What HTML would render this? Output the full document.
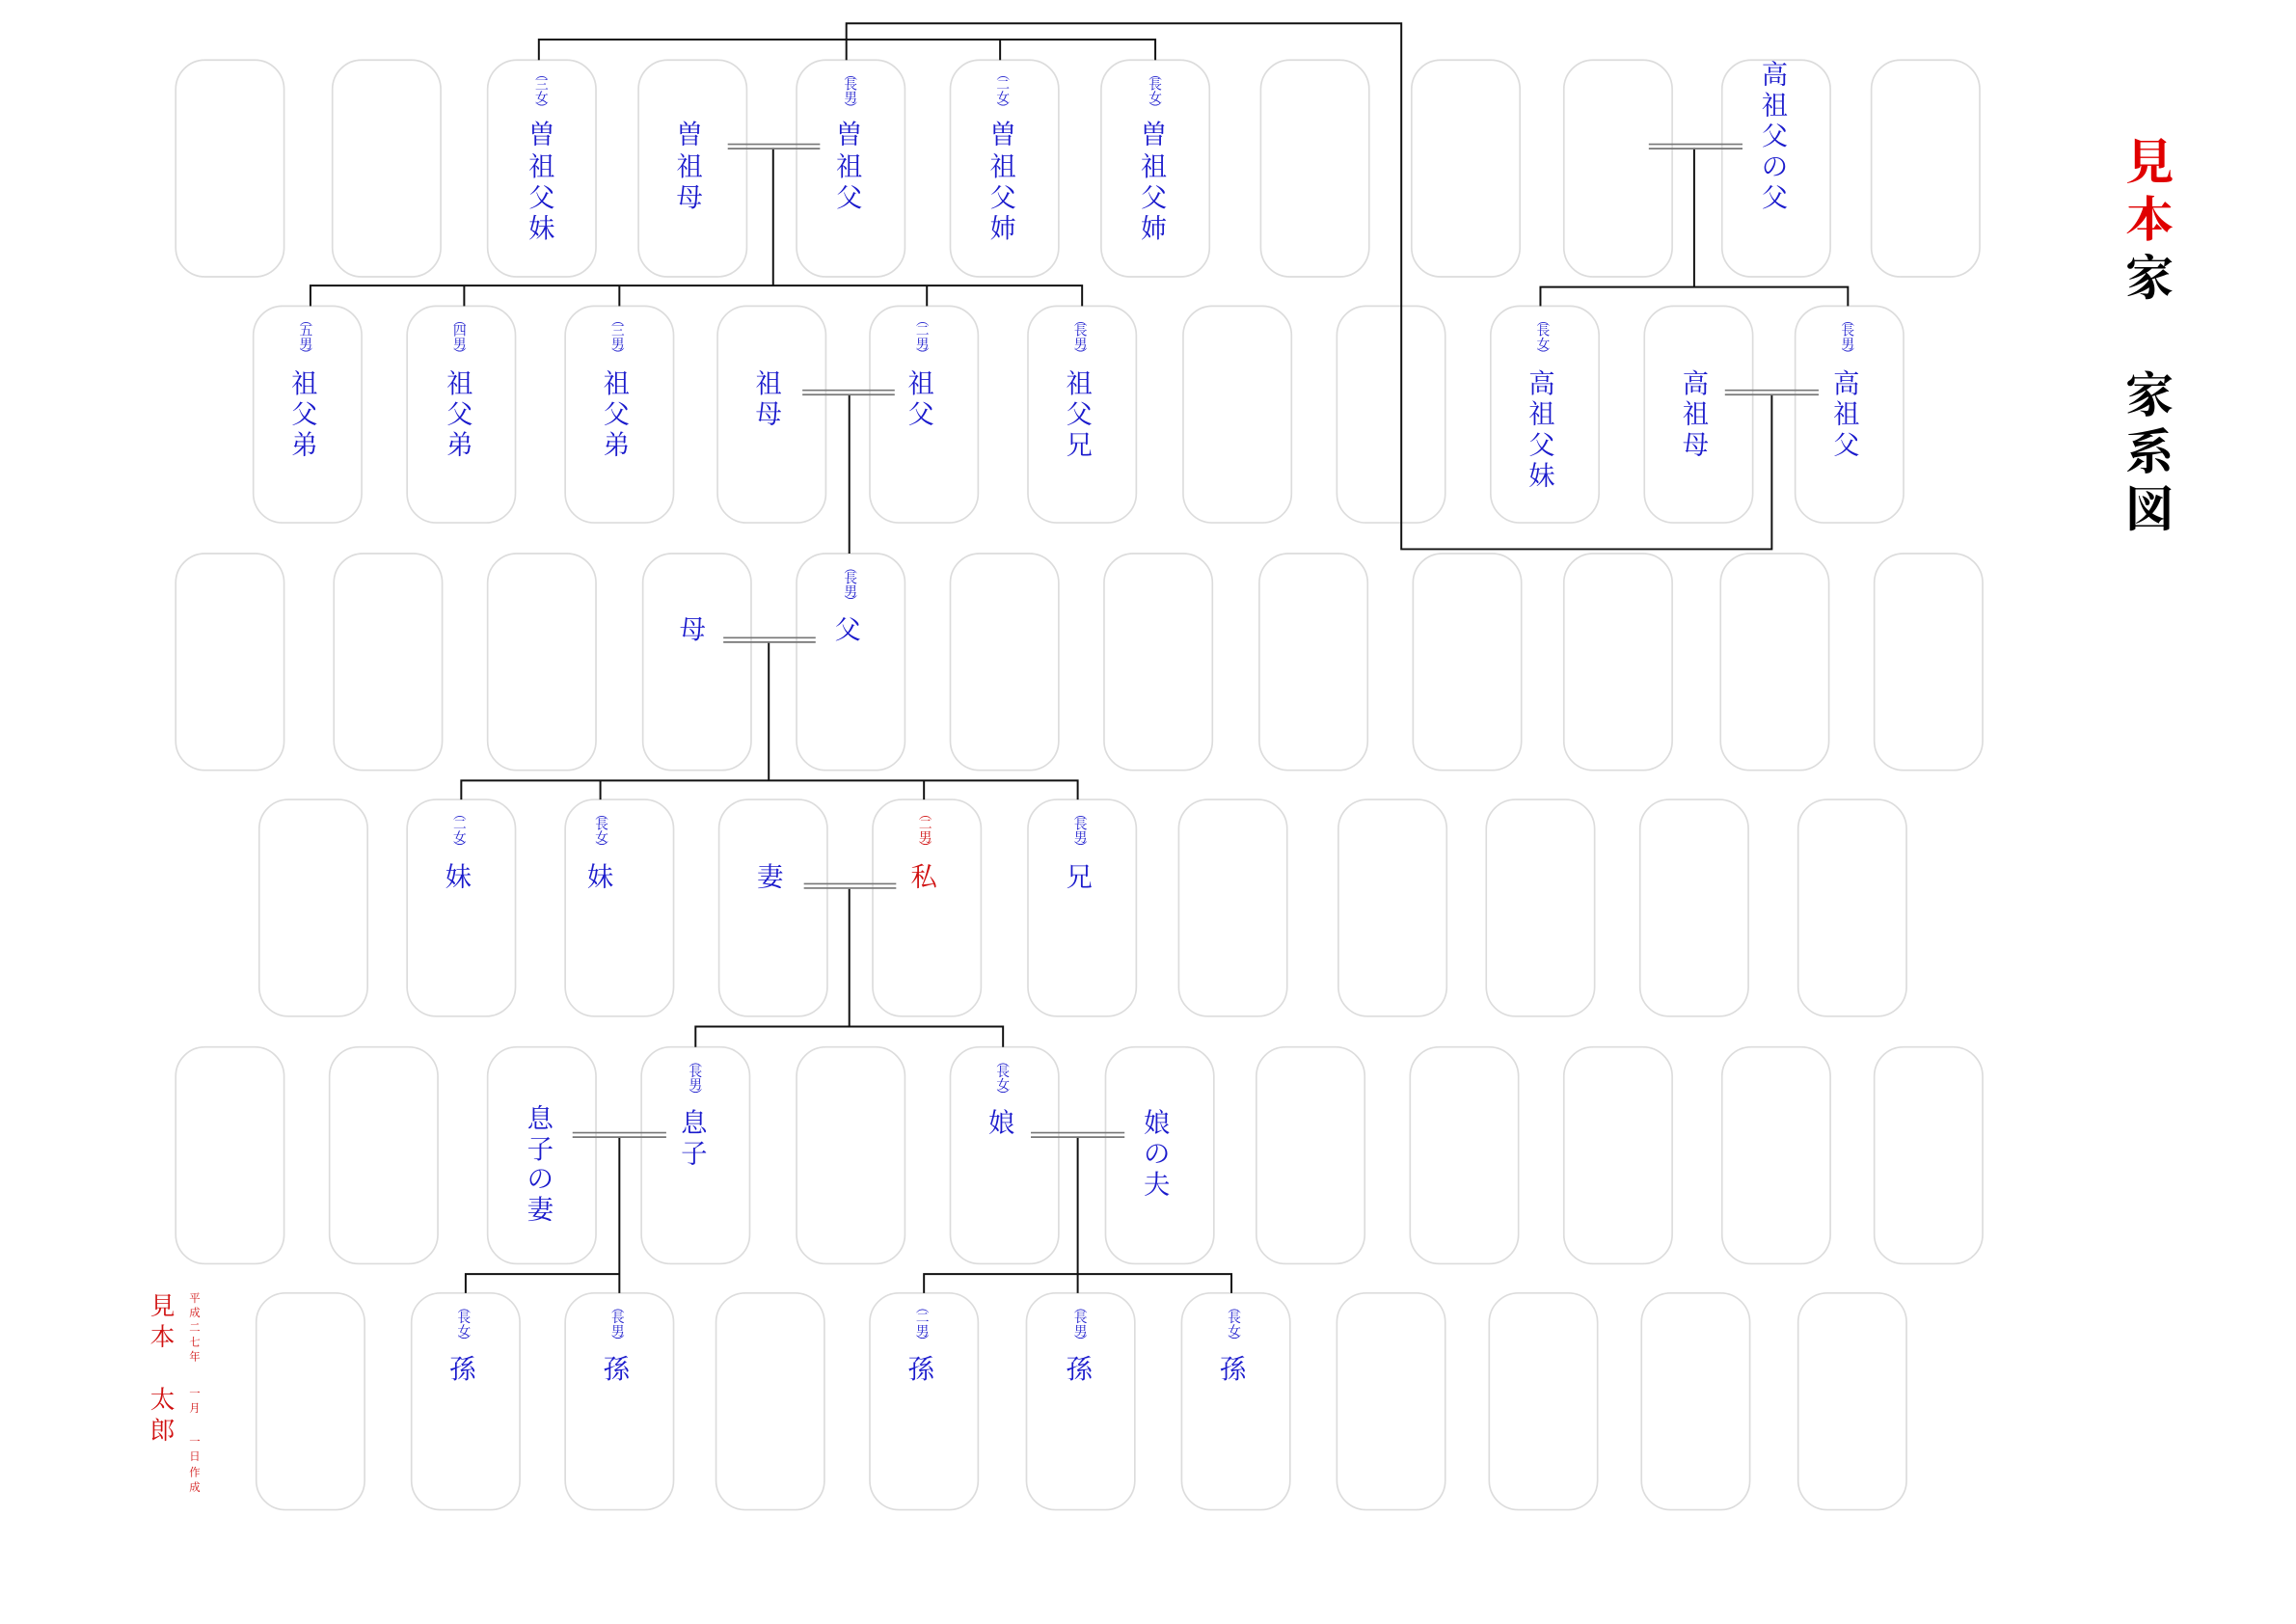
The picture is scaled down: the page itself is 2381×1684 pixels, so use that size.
<!DOCTYPE html>
<html><head><meta charset="utf-8"><style>
html,body{margin:0;padding:0;background:#fff;}
svg{display:block;}
text{font-family:"Liberation Serif","Noto Serif CJK SC",serif;}
.n{fill:#1a1acc;font-size:18px;text-anchor:middle;dominant-baseline:central;}
.s{fill:#1a1acc;font-size:9px;text-anchor:middle;dominant-baseline:central;}
.r{fill:#d01010;}
.b{fill:none;stroke:#dcdcdc;stroke-width:1.1;}
.l{fill:none;stroke:#111;stroke-width:1.3;}
.m{fill:none;stroke:#777;stroke-width:1.1;}
.t{font-size:33px;text-anchor:middle;dominant-baseline:central;font-weight:bold;}
</style></head><body>
<svg width="2381" height="1684" viewBox="0 0 1568 1109" xmlns="http://www.w3.org/2000/svg">
<g class="b">
<rect x="120" y="41" width="74" height="148" rx="20"/><rect x="227" y="41" width="74" height="148" rx="20"/><rect x="333" y="41" width="74" height="148" rx="20"/><rect x="436" y="41" width="74" height="148" rx="20"/><rect x="544" y="41" width="74" height="148" rx="20"/><rect x="649" y="41" width="74" height="148" rx="20"/><rect x="752" y="41" width="74" height="148" rx="20"/><rect x="861" y="41" width="74" height="148" rx="20"/><rect x="964" y="41" width="74" height="148" rx="20"/><rect x="1068" y="41" width="74" height="148" rx="20"/><rect x="1176" y="41" width="74" height="148" rx="20"/><rect x="1278" y="41" width="74" height="148" rx="20"/>
<rect x="173" y="209" width="74" height="148" rx="20"/><rect x="278" y="209" width="74" height="148" rx="20"/><rect x="386" y="209" width="74" height="148" rx="20"/><rect x="490" y="209" width="74" height="148" rx="20"/><rect x="594" y="209" width="74" height="148" rx="20"/><rect x="702" y="209" width="74" height="148" rx="20"/><rect x="808" y="209" width="74" height="148" rx="20"/><rect x="913" y="209" width="74" height="148" rx="20"/><rect x="1018" y="209" width="74" height="148" rx="20"/><rect x="1123" y="209" width="74" height="148" rx="20"/><rect x="1226" y="209" width="74" height="148" rx="20"/>
<rect x="120" y="378" width="74" height="148" rx="20"/><rect x="228" y="378" width="74" height="148" rx="20"/><rect x="333" y="378" width="74" height="148" rx="20"/><rect x="439" y="378" width="74" height="148" rx="20"/><rect x="544" y="378" width="74" height="148" rx="20"/><rect x="649" y="378" width="74" height="148" rx="20"/><rect x="754" y="378" width="74" height="148" rx="20"/><rect x="860" y="378" width="74" height="148" rx="20"/><rect x="965" y="378" width="74" height="148" rx="20"/><rect x="1068" y="378" width="74" height="148" rx="20"/><rect x="1175" y="378" width="74" height="148" rx="20"/><rect x="1280" y="378" width="74" height="148" rx="20"/>
<rect x="177" y="546" width="74" height="148" rx="20"/><rect x="278" y="546" width="74" height="148" rx="20"/><rect x="386" y="546" width="74" height="148" rx="20"/><rect x="491" y="546" width="74" height="148" rx="20"/><rect x="596" y="546" width="74" height="148" rx="20"/><rect x="702" y="546" width="74" height="148" rx="20"/><rect x="805" y="546" width="74" height="148" rx="20"/><rect x="914" y="546" width="74" height="148" rx="20"/><rect x="1015" y="546" width="74" height="148" rx="20"/><rect x="1120" y="546" width="74" height="148" rx="20"/><rect x="1228" y="546" width="74" height="148" rx="20"/>
<rect x="120" y="715" width="74" height="148" rx="20"/><rect x="225" y="715" width="74" height="148" rx="20"/><rect x="333" y="715" width="74" height="148" rx="20"/><rect x="438" y="715" width="74" height="148" rx="20"/><rect x="544" y="715" width="74" height="148" rx="20"/><rect x="649" y="715" width="74" height="148" rx="20"/><rect x="755" y="715" width="74" height="148" rx="20"/><rect x="858" y="715" width="74" height="148" rx="20"/><rect x="963" y="715" width="74" height="148" rx="20"/><rect x="1068" y="715" width="74" height="148" rx="20"/><rect x="1176" y="715" width="74" height="148" rx="20"/><rect x="1280" y="715" width="74" height="148" rx="20"/>
<rect x="175" y="883" width="74" height="148" rx="20"/><rect x="281" y="883" width="74" height="148" rx="20"/><rect x="386" y="883" width="74" height="148" rx="20"/><rect x="489" y="883" width="74" height="148" rx="20"/><rect x="594" y="883" width="74" height="148" rx="20"/><rect x="701" y="883" width="74" height="148" rx="20"/><rect x="807" y="883" width="74" height="148" rx="20"/><rect x="913" y="883" width="74" height="148" rx="20"/><rect x="1017" y="883" width="74" height="148" rx="20"/><rect x="1121" y="883" width="74" height="148" rx="20"/><rect x="1228" y="883" width="74" height="148" rx="20"/>
</g>
<g class="l">
<path d="M368 41V27H789V41M683 27V41"/>
<path d="M578 41V16H957V375H1210V270"/>
<path d="M528 101V195M212 209V195H739V209M317 195V209M423 195V209M633 195V209"/>
<path d="M1157 101V196M1052 209V196H1262V209"/>
<path d="M580 270V378"/>
<path d="M525 439V533M315 546V533H736V546M410 533V546M631 533V546"/>
<path d="M580 607V701M475 715V701H685V715"/>
<path d="M423 777V883M318 883V870H423"/>
<path d="M736 777V883M631 883V870H841V883"/>
</g>
<g class="m">
<path d="M497 98.5H560M497 101.5H560"/>
<path d="M1126 98.5H1190M1126 101.5H1190"/>
<path d="M548 266.5H611M548 269.5H611"/>
<path d="M1178 266.5H1242M1178 269.5H1242"/>
<path d="M494 435.5H557M494 438.5H557"/>
<path d="M549 603.5H612M549 606.5H612"/>
<path d="M391 773.5H455M391 776.5H455"/>
<path d="M704 773.5H768M704 776.5H768"/>
</g>
<g class="s">
<text x="370" y="51">︵</text><text x="370" y="58">三</text><text x="370" y="67">女</text><text x="370" y="74">︶</text>
<text x="581" y="51">︵</text><text x="581" y="58">長</text><text x="581" y="67">男</text><text x="581" y="74">︶</text>
<text x="685" y="51">︵</text><text x="685" y="58">二</text><text x="685" y="67">女</text><text x="685" y="74">︶</text>
<text x="789" y="51">︵</text><text x="789" y="58">長</text><text x="789" y="67">女</text><text x="789" y="74">︶</text>
</g>
<g class="n">
<text x="370" y="92">曽</text><text x="370" y="114">祖</text><text x="370" y="135">父</text><text x="370" y="156">妹</text>
<text x="471" y="92">曽</text><text x="471" y="114">祖</text><text x="471" y="135">母</text>
<text x="580" y="92">曽</text><text x="580" y="114">祖</text><text x="580" y="135">父</text>
<text x="685" y="92">曽</text><text x="685" y="114">祖</text><text x="685" y="135">父</text><text x="685" y="156">姉</text>
<text x="788" y="92">曽</text><text x="788" y="114">祖</text><text x="788" y="135">父</text><text x="788" y="156">姉</text>
<text x="1212" y="51">高</text><text x="1212" y="72">祖</text><text x="1212" y="93">父</text><text x="1212" y="114">の</text><text x="1212" y="135">父</text>
</g>
<g class="s">
<text x="209" y="219">︵</text><text x="209" y="226">五</text><text x="209" y="235">男</text><text x="209" y="242">︶</text>
<text x="314" y="219">︵</text><text x="314" y="226">四</text><text x="314" y="235">男</text><text x="314" y="242">︶</text>
<text x="422" y="219">︵</text><text x="422" y="226">三</text><text x="422" y="235">男</text><text x="422" y="242">︶</text>
<text x="630" y="219">︵</text><text x="630" y="226">二</text><text x="630" y="235">男</text><text x="630" y="242">︶</text>
<text x="738" y="219">︵</text><text x="738" y="226">長</text><text x="738" y="235">男</text><text x="738" y="242">︶</text>
<text x="1054" y="219">︵</text><text x="1054" y="226">長</text><text x="1054" y="235">女</text><text x="1054" y="242">︶</text>
<text x="1262" y="219">︵</text><text x="1262" y="226">長</text><text x="1262" y="235">男</text><text x="1262" y="242">︶</text>
</g>
<g class="n">
<text x="208" y="262">祖</text><text x="208" y="283">父</text><text x="208" y="304">弟</text>
<text x="314" y="262">祖</text><text x="314" y="283">父</text><text x="314" y="304">弟</text>
<text x="421" y="262">祖</text><text x="421" y="283">父</text><text x="421" y="304">弟</text>
<text x="525" y="262">祖</text><text x="525" y="283">母</text>
<text x="629" y="262">祖</text><text x="629" y="283">父</text>
<text x="737" y="262">祖</text><text x="737" y="283">父</text><text x="737" y="304">兄</text>
<text x="1053" y="262">高</text><text x="1053" y="283">祖</text><text x="1053" y="304">父</text><text x="1053" y="325">妹</text>
<text x="1158" y="262">高</text><text x="1158" y="283">祖</text><text x="1158" y="304">母</text>
<text x="1261" y="262">高</text><text x="1261" y="283">祖</text><text x="1261" y="304">父</text>
</g>
<g class="s">
<text x="581" y="388">︵</text><text x="581" y="395">長</text><text x="581" y="404">男</text><text x="581" y="411">︶</text>
</g>
<g class="n">
<text x="473" y="430">母</text><text x="579" y="430">父</text>
</g>
<g class="s">
<text x="314" y="556">︵</text><text x="314" y="563">二</text><text x="314" y="572">女</text><text x="314" y="579">︶</text>
<text x="411" y="556">︵</text><text x="411" y="563">長</text><text x="411" y="572">女</text><text x="411" y="579">︶</text>
<text x="632" y="556" class="r">︵</text><text x="632" y="563" class="r">二</text><text x="632" y="572" class="r">男</text><text x="632" y="579" class="r">︶</text>
<text x="738" y="556">︵</text><text x="738" y="563">長</text><text x="738" y="572">男</text><text x="738" y="579">︶</text>
</g>
<g class="n">
<text x="313" y="599">妹</text><text x="410" y="599">妹</text><text x="526" y="599">妻</text><text x="631" y="599" class="r">私</text><text x="737" y="599">兄</text>
</g>
<g class="s">
<text x="475" y="725">︵</text><text x="475" y="732">長</text><text x="475" y="741">男</text><text x="475" y="748">︶</text>
<text x="685" y="725">︵</text><text x="685" y="732">長</text><text x="685" y="741">女</text><text x="685" y="748">︶</text>
</g>
<g class="n">
<text x="369" y="764">息</text><text x="369" y="785">子</text><text x="369" y="805">の</text><text x="369" y="826">妻</text>
<text x="474" y="767">息</text><text x="474" y="788">子</text>
<text x="684" y="767">娘</text>
<text x="790" y="767">娘</text><text x="790" y="788">の</text><text x="790" y="809">夫</text>
</g>
<g class="s">
<text x="317" y="893">︵</text><text x="317" y="900">長</text><text x="317" y="909">女</text><text x="317" y="916">︶</text>
<text x="422" y="893">︵</text><text x="422" y="900">長</text><text x="422" y="909">男</text><text x="422" y="916">︶</text>
<text x="630" y="893">︵</text><text x="630" y="900">二</text><text x="630" y="909">男</text><text x="630" y="916">︶</text>
<text x="738" y="893">︵</text><text x="738" y="900">長</text><text x="738" y="909">男</text><text x="738" y="916">︶</text>
<text x="843" y="893">︵</text><text x="843" y="900">長</text><text x="843" y="909">女</text><text x="843" y="916">︶</text>
</g>
<g class="n">
<text x="316" y="935">孫</text><text x="421" y="935">孫</text><text x="629" y="935">孫</text><text x="737" y="935">孫</text><text x="842" y="935">孫</text>
</g>
<g class="n r" style="font-size:17px">
<text x="111" y="892" class="r">見</text><text x="111" y="913" class="r">本</text><text x="111" y="956" class="r">太</text><text x="111" y="977" class="r">郎</text>
</g>
<g class="s" style="font-size:7.5px">
<text x="133" y="887" class="r">平</text><text x="133" y="897" class="r">成</text><text x="133" y="907" class="r">二</text><text x="133" y="917" class="r">七</text><text x="133" y="927" class="r">年</text>
<text x="133" y="952" class="r">一</text><text x="133" y="962" class="r">月</text>
<text x="133" y="985" class="r">一</text><text x="133" y="995" class="r">日</text><text x="133" y="1006" class="r">作</text><text x="133" y="1016" class="r">成</text>
</g>
<g class="t">
<text x="1468" y="111" fill="#e00000">見</text><text x="1468" y="150" fill="#e00000">本</text><text x="1468" y="190" fill="#000">家</text>
<text x="1468" y="270" fill="#000">家</text><text x="1468" y="309" fill="#000">系</text><text x="1468" y="348" fill="#000">図</text>
</g>
</svg>
</body></html>
